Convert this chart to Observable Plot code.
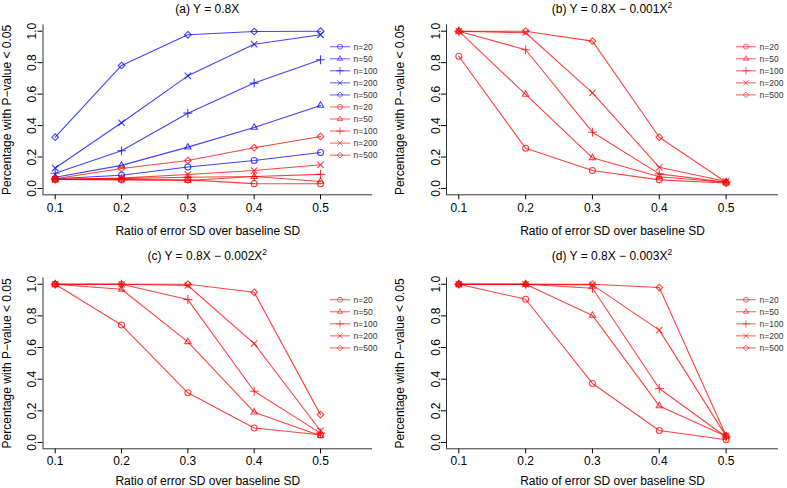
<!DOCTYPE html>
<html><head><meta charset="utf-8">
<script src="https://cdn.jsdelivr.net/npm/d3@7"></script>
<script src="https://cdn.jsdelivr.net/npm/@observablehq/plot@0.6"></script>
<style>
body{margin:0;background:#fff;}
#fig{position:relative;width:787px;height:488px;font-family:"Liberation Sans",Arial,sans-serif;}
.panel{position:absolute;}
</style></head><body><div id="fig"></div>
<script>
// ---- data ----
const ratios = [0.1, 0.2, 0.3, 0.4, 0.5];
const sampleSizes = ["n=20", "n=50", "n=100", "n=200", "n=500"];
const yTicks = [0, 0.2, 0.4, 0.6, 0.8, 1.0];
const panelTitles = ["(a) Y = 0.8X", "(b) Y = 0.8X \u2212 0.001X", "(c) Y = 0.8X \u2212 0.002X", "(d) Y = 0.8X \u2212 0.003X"];
const panelTitleSup = ["", "2", "2", "2"];
const xLabel = "Ratio of error SD over baseline SD";
const yLabel = "Percentage with P\u2212value < 0.05";

// panel (a), blue series (n=20..500)
const aBlue = [
  [0.062, 0.084, 0.137, 0.178, 0.229],
  [0.072, 0.147, 0.263, 0.388, 0.528],
  [0.097, 0.240, 0.479, 0.670, 0.818],
  [0.130, 0.418, 0.716, 0.917, 0.977],
  [0.326, 0.782, 0.977, 0.998, 1.000]
];
// panel (a), red series
const aRed = [
  [0.057, 0.055, 0.055, 0.031, 0.030],
  [0.057, 0.058, 0.051, 0.076, 0.045],
  [0.058, 0.063, 0.072, 0.076, 0.090],
  [0.058, 0.066, 0.089, 0.114, 0.151],
  [0.062, 0.127, 0.178, 0.259, 0.331]
];
// panel (b)
const bRed = [
  [0.841, 0.256, 0.114, 0.055, 0.035],
  [1.000, 0.598, 0.195, 0.075, 0.040],
  [1.000, 0.882, 0.358, 0.093, 0.040],
  [1.000, 0.990, 0.608, 0.135, 0.045],
  [1.000, 1.000, 0.937, 0.326, 0.040]
];
// panel (c)
const cRed = [
  [1.000, 0.742, 0.314, 0.091, 0.049],
  [1.000, 0.968, 0.636, 0.191, 0.042],
  [1.000, 1.000, 0.903, 0.324, 0.059],
  [1.000, 1.000, 0.992, 0.625, 0.074],
  [1.000, 1.000, 1.000, 0.949, 0.176]
];
// panel (d)
const dRed = [
  [1.000, 0.905, 0.373, 0.076, 0.017],
  [1.000, 1.000, 0.803, 0.231, 0.040],
  [1.000, 1.000, 0.975, 0.341, 0.035],
  [1.000, 1.000, 0.996, 0.710, 0.040],
  [1.000, 1.000, 1.000, 0.979, 0.042]
];

// ---- styling ----
const BLUE = "#0000ff", RED = "#ff0000";
const symbolNames = ["circle", "triangle2", "plus", "times", "diamond2"];
const d3Symbols = [d3.symbolCircle, d3.symbolTriangle2, d3.symbolPlus, d3.symbolTimes, d3.symbolDiamond2];
const FONT = '"Liberation Sans", Arial, sans-serif';

function makePanel(idx, groups, box) {
  const rows = [];
  groups.forEach((g, gi) => g.series.forEach((vals, si) => vals.forEach((v, i) =>
    rows.push({key: gi + "-" + si, x: ratios[i], y: v, color: g.color, n: sampleSizes[si]}))));
  const xd = [0.1 - 0.46 * 0.04, 0.56 + 0.46 * 0.04];
  const yd = [-0.04, 1.04];
  const svg = Plot.plot({
    width: box.width, height: box.height,
    marginTop: box.mt, marginBottom: box.mb, marginLeft: box.ml, marginRight: box.mr,
    style: {fontFamily: FONT, fontSize: "12px", color: "#000", background: "transparent", overflow: "visible"},
    x: {domain: xd, ticks: ratios, tickFormat: ".1f", tickSize: 5, tickPadding: box.tp,
        label: xLabel, labelAnchor: "center", labelArrow: "none", labelOffset: box.lo},
    y: {domain: yd, ticks: yTicks, tickFormat: ".1f", tickSize: 5, tickPadding: 2, tickRotate: -90,
        label: yLabel, labelAnchor: "center", labelArrow: "none", labelOffset: box.ml - 2},
    symbol: {domain: sampleSizes, range: symbolNames},
    marks: [
      Plot.ruleX([xd[0]], {stroke: "#333", strokeWidth: 1}),
      Plot.ruleY([yd[0]], {stroke: "#333", strokeWidth: 1}),
      Plot.line(rows, {x: "x", y: "y", z: "key", stroke: "color", strokeOpacity: 0.75, strokeWidth: 1.1}),
      Plot.dot(rows, {x: "x", y: "y", symbol: "n", stroke: "color", strokeOpacity: 0.75, fill: "none", r: 3, strokeWidth: 1.1})
    ]
  });
  const s = d3.select(svg);
  const frameL = box.ml, frameR = box.width - box.mr, frameT = box.mt;
  // title
  const t = s.append("text")
    .attr("x", (frameL + frameR) / 2).attr("y", box.titleY)
    .attr("text-anchor", "middle").attr("font-size", 12).attr("font-family", FONT).attr("fill", "#000")
    .text(panelTitles[idx]);
  if (panelTitleSup[idx]) t.append("tspan").attr("dy", -5).attr("font-size", 8.5).text(panelTitleSup[idx]);
  // legend
  const lg = s.append("g").attr("font-family", FONT).attr("font-size", 8.5).attr("text-anchor", "start");
  let k = 0;
  groups.forEach(g => sampleSizes.forEach((lab, si) => {
    const y = frameT + 22.3 + k * 12.05;
    lg.append("line").attr("x1", frameR - 42).attr("x2", frameR - 22).attr("y1", y).attr("y2", y)
      .attr("stroke", g.color).attr("stroke-opacity", 0.6).attr("stroke-width", 1.1);
    lg.append("path").attr("d", d3.symbol(d3Symbols[si], 20)())
      .attr("transform", `translate(${frameR - 32},${y})`)
      .attr("fill", "none").attr("stroke", g.color).attr("stroke-opacity", 0.6).attr("stroke-width", 1);
    lg.append("text").attr("x", frameR - 18.5).attr("y", y).attr("dy", "0.35em")
      .attr("text-anchor", "start").attr("fill", "#333").text(lab);
    k++;
  }));
  const div = document.createElement("div");
  div.className = "panel";
  div.style.left = box.left + "px";
  div.style.top = box.top + "px";
  div.appendChild(svg);
  document.getElementById("fig").appendChild(div);
}

makePanel(0, [{color: BLUE, series: aBlue}, {color: RED, series: aRed}],
  {left: 0, top: 0, width: 393, height: 244, mt: 24.4, mb: 49.7, ml: 42.5, mr: 21, titleY: 12.5, tp: 4, lo: 40.5});
makePanel(1, [{color: RED, series: bRed}],
  {left: 393, top: 0, width: 394, height: 244, mt: 24.4, mb: 49.7, ml: 53, mr: 9, titleY: 12.5, tp: 4, lo: 40.5});
makePanel(2, [{color: RED, series: cRed}],
  {left: 0, top: 244, width: 393, height: 244, mt: 33.4, mb: 39.7, ml: 42.5, mr: 21, titleY: 15.5, tp: 2.5, lo: 36});
makePanel(3, [{color: RED, series: dRed}],
  {left: 393, top: 244, width: 394, height: 244, mt: 33.4, mb: 39.7, ml: 53, mr: 9, titleY: 15.5, tp: 2.5, lo: 36});
</script></body></html>
